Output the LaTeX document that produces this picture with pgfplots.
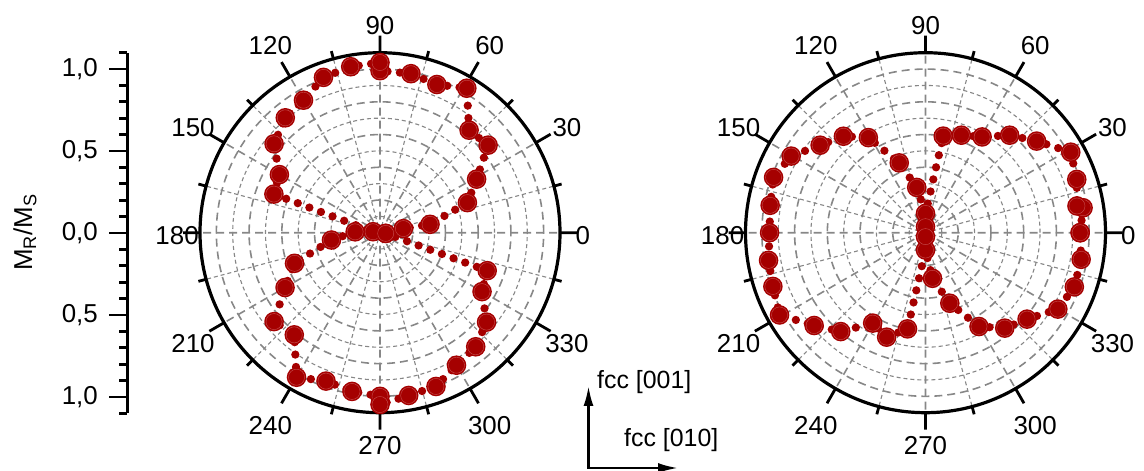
\documentclass[border=0pt]{standalone}
\usepackage{pgfplots}
\pgfplotsset{compat=1.18}
\usepgfplotslibrary{polar}
\usetikzlibrary{arrows.meta}
\usepackage{fontspec}
\setmainfont{Liberation Sans}
\definecolor{mred}{RGB}{165,0,0}
\definecolor{mring}{RGB}{200,80,80}
\definecolor{gridgray}{RGB}{135,135,135}

\pgfdeclareplotmark{ringdot}{%
  \pgfsetdash{}{0pt}%
  \pgfpathcircle{\pgfpointorigin}{\pgfplotmarksize}%
  \pgfsetfillcolor{mred}%
  \pgfusepath{fill}%
  \pgfsetlinewidth{0.4bp}%
  \pgfsetstrokecolor{mring}%
  \pgfpathcircle{\pgfpointorigin}{0.82\pgfplotmarksize}%
  \pgfusepath{stroke}%
}

\pgfplotsset{
  mypolar/.style={
    scale only axis, width=360bp, height=360bp,
    anchor=origin, clip=false,
    ymin=0, ymax=1.1,
    xtick={0,30,...,330},
    xticklabels={0,30,60,90,120,150,180,210,240,270,300,330},
    minor xtick={15,45,...,345},
    ytick={0.2,0.4,0.6,0.8,1.0},
    minor ytick={0.1,0.3,0.5,0.7,0.9},
    yticklabels={},
    grid=both,
    major grid style={gridgray, line width=1.6bp, dash pattern=on 8bp off 5bp},
    minor grid style={gridgray, line width=1.1bp, dash pattern=on 4bp off 3bp},
    axis line style={line width=3.2bp, black},
    y axis line style={draw=none},
    xtick style={line width=2.8bp, black},
    ytick style={draw=none},
    major tick length=17bp, minor tick length=8bp,
    tick align=inside,
    xticklabel style={anchor=center, inner sep=0pt, font=\fontsize{26}{26}\selectfont,
      xshift={(23+7*sin(\tick)^2+13*abs(sin(2*\tick)))*cos(\tick)},
      yshift={(23+7*sin(\tick)^2+13*abs(sin(2*\tick)))*sin(\tick)-3}},
  },
  datastyle/.style={mred, line width=8.3bp, dash pattern=on 0pt off 12.4bp,
    line cap=round, mark=ringdot, mark size=9.8bp},
  markonly/.style={only marks, mark=ringdot, mark size=9.8bp},
}

\begin{document}
\begin{tikzpicture}
\useasboundingbox (0,0) rectangle (1144bp,471bp);

% left scale axis
\begin{axis}[
  at={(127bp,238bp)}, anchor=west,
  scale only axis, width=10bp, height=360.8bp,
  xmin=0, xmax=1, ymin=-1.1, ymax=1.1,
  axis x line=none, axis y line*=left,
  y axis line style={-, line width=3bp, black},
  ytick={-1,-0.5,0,0.5,1},
  yticklabels={{1,0},{0,5},{0,0},{0,5},{1,0}},
  minor ytick={-1.1,-0.9,-0.8,-0.7,-0.6,-0.4,-0.3,-0.2,-0.1,0.1,0.2,0.3,0.4,0.6,0.7,0.8,0.9,1.1},
  tick align=outside,
  major tick length=18bp, minor tick length=8bp,
  ytick style={line width=2.8bp, black},
  yticklabel style={font=\fontsize{26}{26}\selectfont, inner sep=0pt, xshift=-11bp},
]
\end{axis}
\node[rotate=90, font=\fontsize{26}{26}\selectfont] at (25bp,238.5bp) {M\textsubscript{R}/M\textsubscript{S}};

% left polar plot
\begin{polaraxis}[mypolar, at={(380bp,238.3bp)}]
\addplot[datastyle] coordinates {
(353,0.035) (10,0.145) (9.5,0.31) (19,0.565) (29,0.675) (39,0.85) (49,0.83)
(59,1.03) (69,0.97) (79,0.99) (90,0.99) (90,1.04) (100,1.03) (110,1.01)
(120,0.935) (129.5,0.91) (140,0.845) (150,0.71) (160,0.69) (172,0.043)
(178,0.152) (188.6,0.30) (199.7,0.555) (210,0.67) (220,0.845) (230,0.815)
(240,1.02) (250,0.965) (260,0.985) (270,1.0) (270,1.05) (280,1.01) (290,1.0)
(300,0.935) (310,0.91) (320,0.85) (330,0.72) (340.5,0.695) (353,0.035)
};
\end{polaraxis}

% right polar plot
\begin{polaraxis}[mypolar, at={(925.5bp,238.3bp)}]
\addplot[datastyle] coordinates {
(0,0.945) (9,0.975) (10,0.94) (19.4,0.98) (29,1.015) (39.5,0.88) (49.2,0.787)
(59.4,0.68) (69.8,0.635) (79.6,0.60) (90,0.118) (101,0.282) (110.6,0.456)
(121,0.678) (130.4,0.774) (140.3,0.837) (150.3,0.945) (160,0.988) (170,0.964)
(180,0.953) (190,0.974) (199.4,0.989) (209.4,1.024) (219.8,0.886) (229.4,0.796)
(239.7,0.64) (249.6,0.681) (259.4,0.598) (270,0.106) (278.7,0.282) (289,0.456)
(299.7,0.66) (309.7,0.758) (319.6,0.815) (330,0.934) (340,0.968) (350.3,0.965)
(360,0.945)
};
\addplot[markonly] coordinates {(90,0.037) (270,0.024)};
\end{polaraxis}

% crystal direction arrows
\draw[line width=2.4bp, {Latex[length=20bp,width=10bp]}-{Latex[length=20bp,width=10bp]}]
  (588.5bp,85bp) -- (588.5bp,3bp) -- (678bp,3bp);
\node[anchor=west, inner sep=0pt, font=\fontsize{25}{25}\selectfont] at (597bp,89bp) {fcc [001]};
\node[anchor=west, inner sep=0pt, font=\fontsize{25}{25}\selectfont] at (624bp,31bp) {fcc [010]};
\end{tikzpicture}
\end{document}
